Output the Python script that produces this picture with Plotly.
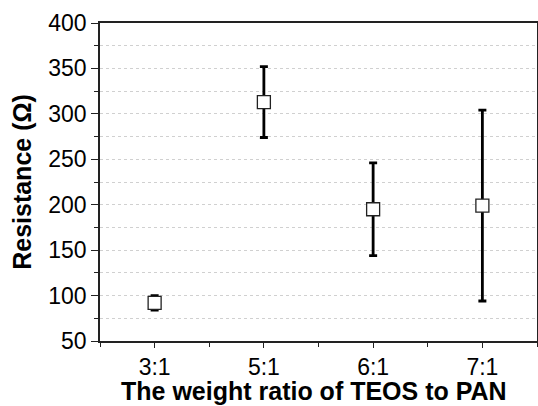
import plotly.graph_objects as go

categories = ["3:1", "5:1", "6:1", "7:1"]
positions = [1, 2, 3, 4]
resistance = [92, 313, 195, 199]
errors = [8, 39, 51, 105]
y_ticks = [50, 100, 150, 200, 250, 300, 350, 400]
x_title = "The weight ratio of TEOS to PAN"
y_title = "Resistance (Ω)"

FONT = "Liberation Sans, Arial, sans-serif"
AX = "#222222"
GRID = "#d0d0d0"

fig = go.Figure(
    go.Scatter(
        x=positions,
        y=resistance,
        mode="markers",
        marker=dict(symbol="square", size=13, color="white",
                    line=dict(color=AX, width=1.3)),
        error_y=dict(type="data", array=errors, visible=True,
                     color="black", thickness=2.8, width=4),
        showlegend=False,
    )
)

fig.update_layout(
    width=538, height=406,
    margin=dict(l=100, r=1, t=23, b=65, autoexpand=False),
    paper_bgcolor="white", plot_bgcolor="white",
    font=dict(family=FONT, color="black"),
    xaxis=dict(
        range=[0.5, 4.5], automargin=False,
        tickmode="array", tickvals=positions, ticktext=categories,
        ticks="outside", ticklen=5, tickwidth=1.3, tickcolor=AX,
        tickfont=dict(size=23, family=FONT),
        showline=True, linecolor=AX, linewidth=1.5, mirror=True,
        showgrid=False, zeroline=False,
        minor=dict(tickmode="array", tickvals=[0.5, 1.5, 2.5, 3.5, 4.5],
                   ticks="outside", ticklen=4, tickwidth=1.2, tickcolor=AX,
                   showgrid=False),
    ),
    yaxis=dict(
        range=[50, 400], automargin=False,
        tickmode="array", tickvals=y_ticks,
        ticks="outside", ticklen=7, tickwidth=1.3, tickcolor=AX,
        tickfont=dict(size=23, family=FONT),
        showline=True, linecolor=AX, linewidth=1.5, mirror=True,
        showgrid=True, gridcolor=GRID, griddash="dot", gridwidth=1,
        zeroline=False,
        minor=dict(dtick=25, tick0=0, ticks="outside", ticklen=4,
                   tickwidth=1.2, tickcolor=AX,
                   showgrid=True, gridcolor=GRID, griddash="dot", gridwidth=1),
        title=dict(text=y_title,
                   font=dict(size=25, family=FONT, weight="bold"), standoff=10),
    ),
    annotations=[
        dict(text=x_title, xref="paper", yref="paper", x=0.49, y=0,
             xanchor="center", yanchor="bottom", yshift=-66, showarrow=False,
             font=dict(size=25, family=FONT, weight="bold", color="black")),
    ],
)

fig.write_html(
    "out.html",
    config={"displayModeBar": False},
    post_script="document.body.style.margin='0';document.body.style.overflow='hidden';",
)
